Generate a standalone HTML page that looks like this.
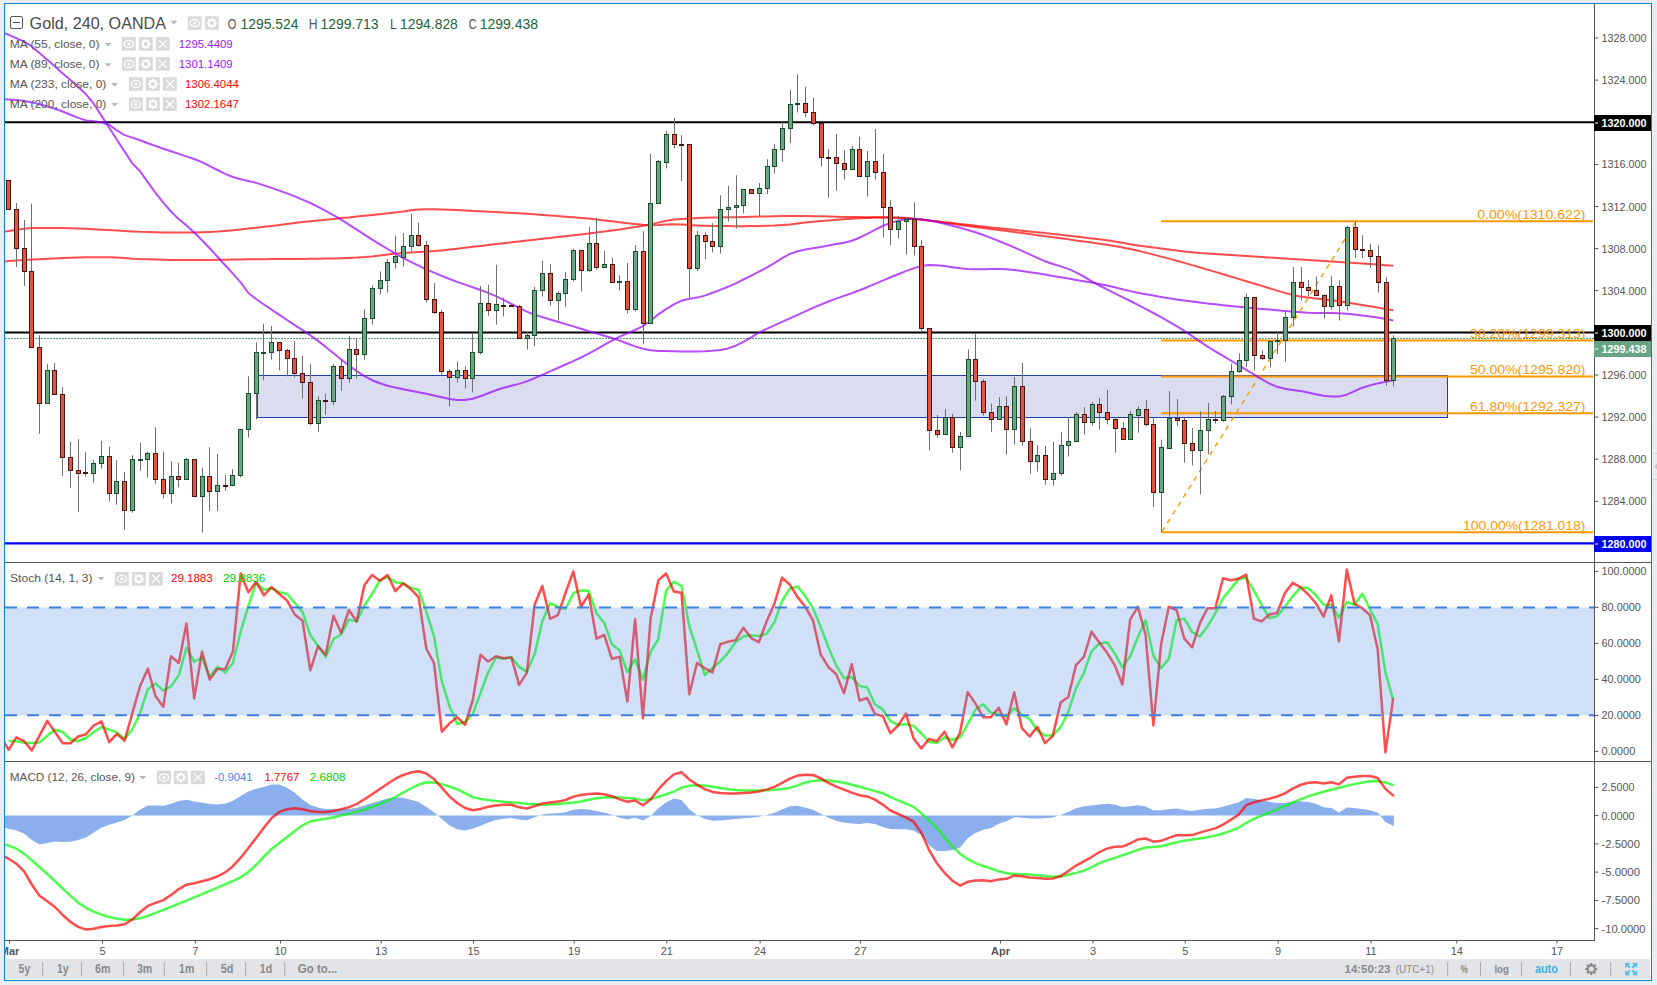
<!DOCTYPE html><html><head><meta charset="utf-8"><style>html,body{margin:0;padding:0;background:#e9edf0;}svg{display:block;}text{font-family:"Liberation Sans", sans-serif;}</style></head><body>
<svg width="1657" height="985" viewBox="0 0 1657 985">
<defs><clipPath id="cMain"><rect x="5" y="4" width="1589" height="558"/></clipPath><clipPath id="cSto"><rect x="5" y="563" width="1589" height="198"/></clipPath><clipPath id="cMacd"><rect x="5" y="762" width="1589" height="178"/></clipPath><clipPath id="cTime"><rect x="5" y="941" width="1645" height="18"/></clipPath></defs>
<rect x="0" y="0" width="1657" height="985" fill="#e9edf0"/>
<rect x="4.5" y="3.5" width="1647" height="977" fill="#ffffff" stroke="#0e82c3" stroke-width="1"/>
<g clip-path="url(#cMain)">
<rect x="257.5" y="375.5" width="1190" height="42" fill="#d9ddef" stroke="#1c3fa8" stroke-width="1"/>
<line x1="5" y1="338.5" x2="1594" y2="338.5" stroke="#5a9e72" stroke-width="1" stroke-dasharray="2,1"/>
<line x1="5" y1="122.3" x2="1594" y2="122.3" stroke="#000" stroke-width="2"/>
<line x1="5" y1="332.4" x2="1594" y2="332.4" stroke="#000" stroke-width="2"/>
<line x1="5" y1="543.3" x2="1594" y2="543.3" stroke="#0000f5" stroke-width="2.2"/>
<line x1="1161" y1="221.2" x2="1593" y2="221.2" stroke="#ff9800" stroke-width="2"/>
<line x1="1161" y1="340.4" x2="1593" y2="340.4" stroke="#ff9800" stroke-width="2"/>
<line x1="1161" y1="376.4" x2="1593" y2="376.4" stroke="#ff9800" stroke-width="2"/>
<line x1="1161" y1="413.3" x2="1593" y2="413.3" stroke="#ff9800" stroke-width="2"/>
<line x1="1161" y1="532.2" x2="1593" y2="532.2" stroke="#ff9800" stroke-width="2"/>
<line x1="1162" y1="531.5" x2="1356" y2="221.5" stroke="#ff9800" stroke-width="1.4" stroke-dasharray="5,5"/>
<polyline points="0.9,232.1 8.6,231.0 16.3,229.7 24.1,228.7 31.8,228.1 39.5,227.9 47.3,227.9 55.0,227.9 62.7,228.0 70.5,228.2 78.2,228.5 86.0,228.8 93.7,229.2 101.4,229.7 109.2,230.1 116.9,230.6 124.6,231.0 132.4,231.4 140.1,231.8 147.8,232.0 155.6,232.2 163.3,232.4 171.0,232.5 178.8,232.6 186.5,232.6 194.2,232.5 202.0,232.3 209.7,232.0 217.4,231.6 225.2,231.0 232.9,230.3 240.7,229.5 248.4,228.6 256.1,227.8 263.9,226.8 271.6,225.9 279.3,225.0 287.1,224.0 294.8,223.1 302.5,222.1 310.3,221.3 318.0,220.5 325.7,219.7 333.5,218.9 341.2,218.1 348.9,217.4 356.7,216.6 364.4,215.8 372.1,215.0 379.9,214.2 387.6,213.3 395.4,212.5 403.1,211.6 410.8,210.3 418.6,209.5 426.3,209.3 434.0,209.3 441.8,209.4 449.5,209.7 457.2,210.1 465.0,210.5 472.7,210.9 480.4,211.3 488.2,211.7 495.9,212.1 503.6,212.5 511.4,212.9 519.1,213.3 526.8,213.8 534.6,214.3 542.3,214.9 550.1,215.5 557.8,216.1 565.5,216.7 573.3,217.3 581.0,218.0 588.7,218.6 596.5,219.4 604.2,220.4 611.9,221.3 619.7,222.3 627.4,223.3 635.1,224.1 642.9,224.8 650.6,225.2 658.3,224.9 666.1,224.4 673.8,224.2 681.5,224.5 689.3,225.0 697.0,225.4 704.8,225.7 712.5,225.9 720.2,226.0 728.0,226.1 735.7,226.2 743.4,226.2 751.2,226.1 758.9,226.0 766.6,225.8 774.4,225.5 782.1,225.0 789.8,224.4 797.6,223.5 805.3,222.6 813.0,221.8 820.8,221.0 828.5,220.4 836.2,219.8 844.0,219.3 851.7,218.7 859.5,218.3 867.2,217.9 874.9,217.6 882.7,217.5 890.4,217.5 898.1,217.7 905.9,218.1 913.6,218.8 921.3,219.6 929.1,220.5 936.8,221.3 944.5,222.2 952.3,223.1 960.0,224.0 967.7,224.8 975.5,225.7 983.2,226.5 990.9,227.4 998.7,228.2 1006.4,229.0 1014.2,229.8 1021.9,230.7 1029.6,231.5 1037.4,232.3 1045.1,233.1 1052.8,234.0 1060.6,234.8 1068.3,235.7 1076.0,236.6 1083.8,237.5 1091.5,238.4 1099.2,239.3 1107.0,240.3 1114.7,241.5 1122.4,242.8 1130.2,244.2 1137.9,245.4 1145.6,246.5 1153.4,247.5 1161.1,248.6 1168.8,249.6 1176.6,250.5 1184.3,251.4 1192.1,252.2 1199.8,253.0 1207.5,253.6 1215.3,254.1 1223.0,254.6 1230.7,255.1 1238.5,255.6 1246.2,256.1 1253.9,256.5 1261.7,257.0 1269.4,257.5 1277.1,257.9 1284.9,258.4 1292.6,258.9 1300.3,259.4 1308.1,259.9 1315.8,260.4 1323.5,260.9 1331.3,261.5 1339.0,262.0 1346.8,262.5 1354.5,263.0 1362.2,263.6 1370.0,264.1 1377.7,264.6 1385.4,265.2 1393.2,265.7" fill="none" stroke="rgba(255,0,0,0.7)" stroke-width="2" stroke-linejoin="round"/>
<polyline points="0.9,261.7 8.6,261.1 16.3,260.6 24.1,260.1 31.8,259.6 39.5,259.2 47.3,258.8 55.0,258.4 62.7,258.1 70.5,257.8 78.2,257.5 86.0,257.3 93.7,257.2 101.4,257.2 109.2,257.2 116.9,257.6 124.6,258.1 132.4,258.7 140.1,259.1 147.8,259.3 155.6,259.5 163.3,259.7 171.0,259.9 178.8,260.0 186.5,260.0 194.2,260.0 202.0,260.0 209.7,259.9 217.4,259.8 225.2,259.7 232.9,259.5 240.7,259.4 248.4,259.3 256.1,259.2 263.9,259.2 271.6,259.1 279.3,259.1 287.1,259.0 294.8,259.0 302.5,258.9 310.3,258.8 318.0,258.7 325.7,258.6 333.5,258.4 341.2,258.2 348.9,257.9 356.7,257.6 364.4,257.1 372.1,256.4 379.9,255.4 387.6,254.4 395.4,253.5 403.1,252.9 410.8,252.4 418.6,252.0 426.3,251.5 434.0,251.1 441.8,250.4 449.5,249.6 457.2,248.7 465.0,247.7 472.7,246.8 480.4,245.9 488.2,245.0 495.9,244.1 503.6,243.2 511.4,242.3 519.1,241.4 526.8,240.6 534.6,239.7 542.3,238.8 550.1,237.9 557.8,237.0 565.5,236.2 573.3,235.3 581.0,234.4 588.7,233.5 596.5,232.5 604.2,231.5 611.9,230.5 619.7,229.4 627.4,228.3 635.1,227.1 642.9,225.8 650.6,224.4 658.3,222.6 666.1,220.8 673.8,219.6 681.5,218.9 689.3,218.4 697.0,218.1 704.8,217.8 712.5,217.6 720.2,217.5 728.0,217.3 735.7,217.2 743.4,217.0 751.2,216.8 758.9,216.6 766.6,216.4 774.4,216.2 782.1,216.1 789.8,216.0 797.6,216.0 805.3,216.1 813.0,216.2 820.8,216.3 828.5,216.5 836.2,216.7 844.0,216.9 851.7,217.0 859.5,217.1 867.2,217.2 874.9,217.2 882.7,217.3 890.4,217.4 898.1,217.7 905.9,218.1 913.6,218.8 921.3,219.7 929.1,220.6 936.8,221.6 944.5,222.7 952.3,223.8 960.0,224.9 967.7,225.9 975.5,227.0 983.2,228.1 990.9,229.1 998.7,230.1 1006.4,231.1 1014.2,232.1 1021.9,233.1 1029.6,234.1 1037.4,235.2 1045.1,236.2 1052.8,237.2 1060.6,238.3 1068.3,239.3 1076.0,240.4 1083.8,241.5 1091.5,242.6 1099.2,243.7 1107.0,244.8 1114.7,246.1 1122.4,247.4 1130.2,249.0 1137.9,250.7 1145.6,252.6 1153.4,254.6 1161.1,256.6 1168.8,258.6 1176.6,260.7 1184.3,262.9 1192.1,265.1 1199.8,267.3 1207.5,269.6 1215.3,271.9 1223.0,274.2 1230.7,276.5 1238.5,278.9 1246.2,281.2 1253.9,283.5 1261.7,285.9 1269.4,288.3 1277.1,290.6 1284.9,292.9 1292.6,294.9 1300.3,296.4 1308.1,297.5 1315.8,298.5 1323.5,299.3 1331.3,300.2 1339.0,301.3 1346.8,302.5 1354.5,303.8 1362.2,305.0 1370.0,306.3 1377.7,307.6 1385.4,308.9 1393.2,310.2" fill="none" stroke="rgba(255,0,0,0.7)" stroke-width="2" stroke-linejoin="round"/>
<polyline points="0.9,99.1 8.6,99.6 16.3,100.0 24.1,100.9 31.8,102.4 39.5,104.3 47.3,106.4 55.0,108.8 62.7,111.5 70.5,114.7 78.2,117.9 86.0,120.4 93.7,121.3 101.4,122.2 109.2,124.8 116.9,130.5 124.6,135.1 132.4,137.6 140.1,140.3 147.8,143.3 155.6,146.0 163.3,148.7 171.0,151.3 178.8,153.9 186.5,156.4 194.2,159.0 202.0,162.1 209.7,166.1 217.4,170.0 225.2,173.8 232.9,177.0 240.7,179.2 248.4,181.0 256.1,182.9 263.9,185.4 271.6,187.9 279.3,190.6 287.1,193.4 294.8,196.4 302.5,199.6 310.3,203.0 318.0,206.8 325.7,210.8 333.5,215.1 341.2,219.7 348.9,224.6 356.7,229.6 364.4,234.7 372.1,239.6 379.9,244.3 387.6,249.0 395.4,253.6 403.1,257.9 410.8,261.9 418.6,265.7 426.3,269.3 434.0,272.6 441.8,275.9 449.5,279.0 457.2,281.9 465.0,284.6 472.7,287.3 480.4,290.0 488.2,292.9 495.9,296.1 503.6,299.9 511.4,303.9 519.1,307.9 526.8,311.6 534.6,314.7 542.3,317.1 550.1,319.5 557.8,321.8 565.5,324.1 573.3,326.4 581.0,328.8 588.7,331.1 596.5,333.4 604.2,335.7 611.9,338.0 619.7,340.6 627.4,343.5 635.1,346.4 642.9,348.8 650.6,350.2 658.3,350.9 666.1,351.1 673.8,351.2 681.5,351.4 689.3,351.4 697.0,351.4 704.8,351.2 712.5,350.8 720.2,350.0 728.0,348.4 735.7,345.7 743.4,341.8 751.2,337.3 758.9,332.7 766.6,328.8 774.4,325.3 782.1,321.8 789.8,318.3 797.6,314.8 805.3,311.3 813.0,307.9 820.8,304.6 828.5,301.5 836.2,298.6 844.0,295.9 851.7,293.2 859.5,290.3 867.2,287.2 874.9,283.9 882.7,280.6 890.4,277.3 898.1,274.2 905.9,271.1 913.6,268.4 921.3,266.0 929.1,264.9 936.8,265.3 944.5,266.1 952.3,267.2 960.0,268.2 967.7,268.9 975.5,269.2 983.2,269.2 990.9,269.1 998.7,269.0 1006.4,269.3 1014.2,270.0 1021.9,271.0 1029.6,272.2 1037.4,273.3 1045.1,274.6 1052.8,275.9 1060.6,277.2 1068.3,278.5 1076.0,279.9 1083.8,281.2 1091.5,282.6 1099.2,284.1 1107.0,285.6 1114.7,287.3 1122.4,289.2 1130.2,291.1 1137.9,292.8 1145.6,294.2 1153.4,295.6 1161.1,296.9 1168.8,298.2 1176.6,299.4 1184.3,300.5 1192.1,301.6 1199.8,302.6 1207.5,303.5 1215.3,304.3 1223.0,305.2 1230.7,306.0 1238.5,306.7 1246.2,307.5 1253.9,308.2 1261.7,308.9 1269.4,309.6 1277.1,310.3 1284.9,310.9 1292.6,311.6 1300.3,312.2 1308.1,312.7 1315.8,313.0 1323.5,313.0 1331.3,313.0 1339.0,313.2 1346.8,313.7 1354.5,314.4 1362.2,315.4 1370.0,316.4 1377.7,317.6 1385.4,319.0 1393.2,320.4" fill="none" stroke="rgba(153,0,255,0.7)" stroke-width="2" stroke-linejoin="round"/>
<polyline points="0.9,31.8 8.6,34.8 16.3,38.1 24.1,41.7 31.8,46.4 39.5,53.0 47.3,59.8 55.0,66.6 62.7,73.4 70.5,80.1 78.2,86.9 86.0,94.3 93.7,103.7 101.4,115.6 109.2,127.8 116.9,139.7 124.6,151.6 132.4,163.5 140.1,171.3 147.8,182.2 155.6,193.0 163.3,202.6 171.0,211.5 178.8,219.3 186.5,225.4 194.2,232.6 202.0,240.2 209.7,248.3 217.4,256.7 225.2,265.2 232.9,273.6 240.7,282.3 248.4,293.0 256.1,299.0 263.9,304.5 271.6,309.7 279.3,314.9 287.1,320.0 294.8,325.1 302.5,330.2 310.3,335.4 318.0,340.9 325.7,346.9 333.5,353.3 341.2,359.5 348.9,365.5 356.7,371.1 364.4,376.2 372.1,380.2 379.9,383.3 387.6,385.7 395.4,387.6 403.1,389.2 410.8,390.8 418.6,392.3 426.3,393.8 434.0,395.5 441.8,397.2 449.5,398.9 457.2,400.0 465.0,400.0 472.7,398.8 480.4,396.3 488.2,393.2 495.9,390.2 503.6,387.7 511.4,385.8 519.1,383.9 526.8,381.4 534.6,378.2 542.3,374.8 550.1,371.4 557.8,368.0 565.5,364.5 573.3,361.1 581.0,357.5 588.7,353.7 596.5,349.4 604.2,344.9 611.9,340.6 619.7,336.7 627.4,333.3 635.1,330.0 642.9,326.1 650.6,320.6 658.3,314.4 666.1,309.1 673.8,304.3 681.5,300.7 689.3,298.7 697.0,297.6 704.8,295.6 712.5,292.8 720.2,289.9 728.0,286.8 735.7,283.3 743.4,279.5 751.2,275.6 758.9,271.7 766.6,267.7 774.4,263.1 782.1,258.2 789.8,253.9 797.6,251.2 805.3,249.5 813.0,248.2 820.8,246.9 828.5,245.5 836.2,244.1 844.0,242.7 851.7,240.8 859.5,237.7 867.2,233.9 874.9,229.8 882.7,226.0 890.4,222.9 898.1,220.8 905.9,219.2 913.6,218.7 921.3,219.3 929.1,220.5 936.8,222.0 944.5,223.7 952.3,225.7 960.0,227.8 967.7,230.0 975.5,232.3 983.2,235.0 990.9,237.9 998.7,241.0 1006.4,244.1 1014.2,247.4 1021.9,250.8 1029.6,254.4 1037.4,257.9 1045.1,261.3 1052.8,264.0 1060.6,266.4 1068.3,268.9 1076.0,272.4 1083.8,276.7 1091.5,281.2 1099.2,285.5 1107.0,289.4 1114.7,293.3 1122.4,297.1 1130.2,301.0 1137.9,304.9 1145.6,308.9 1153.4,313.0 1161.1,317.2 1168.8,321.6 1176.6,326.1 1184.3,330.9 1192.1,336.1 1199.8,341.4 1207.5,346.6 1215.3,351.3 1223.0,355.9 1230.7,360.5 1238.5,365.1 1246.2,369.8 1253.9,374.4 1261.7,379.1 1269.4,383.5 1277.1,386.8 1284.9,388.7 1292.6,389.9 1300.3,391.1 1308.1,392.6 1315.8,394.3 1323.5,395.7 1331.3,396.6 1339.0,396.6 1346.8,394.7 1354.5,391.2 1362.2,387.7 1370.0,385.4 1377.7,383.4 1385.4,381.7 1393.2,380.2" fill="none" stroke="rgba(153,0,255,0.7)" stroke-width="2" stroke-linejoin="round"/>
<path d="M8.5,180.0V180.5M8.5,209.5V209.9M16.5,203.0V209.5M16.5,248.5V267.0M24.5,220.0V248.5M24.5,271.5V285.8M31.5,203.7V271.5M39.5,335.3V347.5M39.5,403.5V433.8M47.5,364.1V370.5M54.5,363.0V370.5M62.5,387.1V394.5M62.5,457.5V476.0M70.5,441.9V457.5M70.5,470.5V487.8M78.5,439.2V470.5M78.5,473.5V511.9M85.5,452.2V472.5M85.5,473.5V476.7M93.5,460.0V463.5M93.5,473.5V482.9M101.5,440.9V456.5M101.5,463.5V468.6M109.5,446.8V456.5M109.5,493.5V501.6M116.5,460.0V481.5M116.5,493.5V504.8M124.5,471.8V481.5M124.5,510.5V529.8M132.5,455.2V459.5M132.5,510.5V512.7M140.5,442.8V459.5M140.5,460.5V470.7M147.5,451.7V453.5M147.5,459.5V477.4M155.5,427.2V453.5M155.5,479.5V483.7M163.5,451.7V479.5M163.5,493.5V498.6M171.5,461.1V476.5M171.5,493.5V503.5M178.5,462.9V476.5M178.5,479.5V487.4M186.5,458.0V459.5M186.5,479.5V479.6M194.5,459.1V459.5M202.5,467.8V476.5M202.5,496.5V532.5M209.5,447.3V476.5M209.5,491.5V510.9M217.5,454.0V485.5M217.5,491.5V510.9M225.5,475.2V485.5M225.5,486.5V490.8M232.5,469.1V475.5M232.5,485.5V486.3M240.5,429.4V429.5M240.5,475.5V477.4M248.5,376.3V393.5M248.5,429.5V437.7M256.5,342.3V352.5M256.5,393.5V419.4M263.5,323.8V352.5M263.5,353.5V380.3M271.5,326.0V342.5M271.5,352.5V359.5M279.5,342.3V342.5M279.5,350.5V370.3M287.5,349.0V350.5M287.5,358.5V376.3M294.5,341.2V358.5M294.5,373.5V377.4M302.5,355.7V373.5M302.5,382.5V398.6M310.5,364.0V382.5M310.5,423.5V425.0M318.5,396.4V400.5M318.5,423.5V431.7M325.5,393.7V400.5M325.5,401.5V414.7M333.5,364.0V366.5M333.5,401.5V404.9M341.5,359.5V366.5M341.5,378.5V390.8M349.5,336.1V349.5M349.5,378.5V382.5M356.5,338.3V349.5M356.5,354.5V378.5M364.5,309.3V318.5M364.5,354.5V359.5M372.5,285.2V288.5M372.5,318.5V324.5M380.5,271.4V280.5M380.5,288.5V294.3M387.5,259.2V262.5M387.5,280.5V292.7M395.5,235.7V256.5M395.5,262.5V268.5M403.5,233.0V246.5M403.5,257.5V266.5M411.5,213.8V235.5M411.5,246.5V251.4M418.5,222.8V235.5M418.5,245.5V246.9M426.5,240.9V245.5M426.5,299.5V302.7M434.5,283.0V299.5M434.5,312.5V313.9M441.5,309.8V312.5M441.5,371.5V375.3M449.5,369.0V371.5M449.5,377.5V406.5M457.5,361.9V370.5M457.5,377.5V382.6M465.5,366.3V370.5M465.5,378.5V388.7M472.5,333.5V352.5M472.5,378.5V392.5M480.5,286.0V303.5M480.5,352.5V354.5M488.5,284.8V303.5M488.5,310.5V315.7M496.5,264.7V304.5M496.5,310.5V324.6M503.5,297.8V305.5M503.5,306.5V316.5M511.5,304.0V305.5M511.5,306.5V307.0M519.5,305.0V306.5M527.5,331.7V335.5M527.5,338.5V349.6M534.5,287.0V290.5M534.5,335.5V346.2M542.5,260.7V273.5M542.5,290.5V296.5M550.5,264.0V273.5M550.5,300.5V305.6M558.5,291.0V293.5M558.5,300.5V320.6M565.5,271.9V279.5M565.5,293.5V306.7M573.5,248.7V250.5M573.5,279.5V281.5M581.5,250.2V250.5M581.5,270.5V291.5M589.5,226.8V243.5M589.5,270.5V271.9M596.5,217.9V243.5M596.5,267.5V269.7M604.5,250.9V264.5M604.5,267.5V268.1M612.5,258.0V264.5M612.5,282.5V282.6M619.5,275.2V281.5M619.5,282.5V290.4M627.5,263.0V281.5M627.5,309.5V313.4M635.5,245.0V251.5M635.5,309.5V311.6M643.5,231.2V251.5M643.5,323.5V344.3M650.5,153.8V203.5M650.5,323.5V323.8M658.5,159.9V161.5M666.5,130.7V134.5M666.5,162.5V168.4M674.5,118.0V134.5M674.5,144.5V148.5M681.5,135.1V144.5M681.5,145.5V181.1M689.5,268.5V297.5M697.5,231.0V235.5M697.5,268.5V271.2M705.5,232.5V235.5M705.5,241.5V259.3M712.5,223.2V241.5M712.5,246.5V252.4M720.5,195.2V209.5M720.5,246.5V253.7M728.5,186.0V207.5M728.5,209.5V221.5M736.5,175.3V205.5M736.5,207.5V228.6M743.5,189.1V189.5M743.5,205.5V213.5M751.5,189.1V189.5M759.5,183.0V188.5M759.5,193.5V216.0M767.5,159.3V166.5M767.5,188.5V194.2M774.5,144.1V149.5M774.5,166.5V173.4M782.5,122.2V128.5M782.5,149.5V161.7M790.5,90.1V104.5M790.5,128.5V142.9M797.5,74.3V103.5M797.5,104.5V112.5M805.5,86.9V103.5M805.5,112.5V117.3M813.5,97.9V112.5M813.5,123.5V125.4M821.5,123.0V123.5M821.5,157.5V166.5M828.5,149.0V157.5M828.5,158.5V197.7M836.5,133.9V157.5M836.5,163.5V190.9M844.5,150.2V163.5M844.5,169.5V179.4M852.5,146.1V149.5M852.5,169.5V169.7M859.5,136.8V149.5M867.5,151.0V161.5M867.5,176.5V196.5M875.5,129.0V161.5M875.5,172.5V179.4M883.5,153.9V172.5M883.5,207.5V237.4M890.5,200.1V207.5M890.5,229.5V245.3M898.5,215.7V221.5M898.5,229.5V238.4M906.5,217.6V219.5M906.5,221.5V254.6M914.5,202.3V219.5M914.5,246.5V255.5M921.5,239.8V246.5M921.5,328.5V330.9M929.5,430.5V450.4M937.5,414.9V430.5M937.5,434.5V437.6M945.5,409.2V417.5M945.5,434.5V434.8M952.5,414.0V417.5M952.5,447.5V452.7M960.5,431.9V436.5M960.5,447.5V470.3M968.5,349.4V359.5M975.5,333.7V359.5M975.5,381.5V400.6M983.5,379.3V381.5M983.5,412.5V415.7M991.5,403.5V412.5M991.5,419.5V431.9M999.5,397.2V406.5M1006.5,396.4V406.5M1006.5,429.5V454.7M1014.5,377.0V386.5M1014.5,429.5V444.7M1022.5,362.8V386.5M1022.5,441.5V445.6M1030.5,428.1V441.5M1030.5,461.5V473.8M1037.5,445.1V455.5M1037.5,461.5V471.6M1045.5,446.0V455.5M1045.5,479.5V484.8M1053.5,442.0V473.5M1053.5,479.5V485.7M1061.5,432.3V445.5M1061.5,473.5V475.6M1068.5,417.1V441.5M1068.5,445.5V456.6M1076.5,412.2V414.5M1084.5,407.1V414.5M1084.5,422.5V434.5M1092.5,402.1V404.5M1092.5,422.5V425.5M1099.5,398.1V404.5M1099.5,412.5V429.6M1107.5,389.9V412.5M1107.5,419.5V424.4M1115.5,417.3V419.5M1115.5,428.5V452.8M1123.5,422.3V428.5M1123.5,439.5V439.6M1130.5,411.3V414.5M1130.5,439.5V439.6M1138.5,406.2V409.5M1138.5,415.5V432.7M1146.5,400.1V409.5M1146.5,424.5V426.2M1153.5,417.3V424.5M1153.5,492.5V507.0M1161.5,439.6V447.5M1161.5,492.5V531.7M1169.5,391.0V418.5M1177.5,399.0V418.5M1177.5,420.5V426.2M1184.5,418.0V420.5M1184.5,443.5V462.6M1192.5,428.0V443.5M1192.5,450.5V465.3M1200.5,411.3V430.5M1200.5,450.5V494.3M1208.5,402.8V419.5M1208.5,430.5V454.1M1215.5,411.0V419.5M1215.5,420.5V423.6M1223.5,395.0V396.5M1223.5,420.5V421.8M1231.5,363.7V371.5M1231.5,396.5V404.4M1239.5,353.2V360.5M1239.5,371.5V372.7M1246.5,293.4V297.5M1246.5,360.5V367.1M1254.5,297.2V297.5M1254.5,355.5V370.4M1262.5,350.3V355.5M1262.5,358.5V360.2M1270.5,341.2V341.5M1270.5,358.5V367.5M1277.5,331.5V340.5M1277.5,341.5V354.3M1285.5,311.4V317.5M1285.5,340.5V361.7M1293.5,267.0V282.5M1293.5,317.5V326.6M1301.5,267.0V282.5M1301.5,287.5V300.4M1308.5,280.0V287.5M1308.5,290.5V295.9M1316.5,276.7V290.5M1324.5,294.4V295.5M1324.5,306.5V318.7M1331.5,276.1V286.5M1331.5,306.5V309.6M1339.5,280.3V286.5M1339.5,305.5V320.5M1347.5,225.5V227.5M1347.5,305.5V310.5M1355.5,221.3V227.5M1355.5,249.5V257.9M1362.5,235.2V249.5M1362.5,250.5V257.9M1370.5,243.8V250.5M1370.5,256.5V268.1M1378.5,245.1V256.5M1378.5,282.5V292.6M1386.5,277.2V282.5M1386.5,380.5V385.8M1393.5,335.2V338.5M1393.5,380.5V386.3" stroke="#6e6e6e" stroke-width="1" fill="none"/>
<g fill="#e0553f" stroke="#4a1410" stroke-width="1"><rect x="6.5" y="180.5" width="4" height="29.0"/><rect x="14.5" y="209.5" width="4" height="39.0"/><rect x="22.5" y="248.5" width="4" height="23.0"/><rect x="29.5" y="271.5" width="4" height="76.0"/><rect x="37.5" y="347.5" width="4" height="56.0"/><rect x="52.5" y="370.5" width="4" height="24.0"/><rect x="60.5" y="394.5" width="4" height="63.0"/><rect x="68.5" y="457.5" width="4" height="13.0"/><rect x="76.5" y="470.5" width="4" height="3.0"/><rect x="83.5" y="472.5" width="4" height="1.0"/><rect x="107.5" y="456.5" width="4" height="37.0"/><rect x="122.5" y="481.5" width="4" height="29.0"/><rect x="153.5" y="453.5" width="4" height="26.0"/><rect x="161.5" y="479.5" width="4" height="14.0"/><rect x="176.5" y="476.5" width="4" height="3.0"/><rect x="192.5" y="459.5" width="4" height="37.0"/><rect x="207.5" y="476.5" width="4" height="15.0"/><rect x="223.5" y="485.5" width="4" height="1.0"/><rect x="277.5" y="342.5" width="4" height="8.0"/><rect x="285.5" y="350.5" width="4" height="8.0"/><rect x="292.5" y="358.5" width="4" height="15.0"/><rect x="300.5" y="373.5" width="4" height="9.0"/><rect x="308.5" y="382.5" width="4" height="41.0"/><rect x="323.5" y="400.5" width="4" height="1.0"/><rect x="339.5" y="366.5" width="4" height="12.0"/><rect x="354.5" y="349.5" width="4" height="5.0"/><rect x="416.5" y="235.5" width="4" height="10.0"/><rect x="424.5" y="245.5" width="4" height="54.0"/><rect x="432.5" y="299.5" width="4" height="13.0"/><rect x="439.5" y="312.5" width="4" height="59.0"/><rect x="447.5" y="371.5" width="4" height="6.0"/><rect x="463.5" y="370.5" width="4" height="8.0"/><rect x="486.5" y="303.5" width="4" height="7.0"/><rect x="501.5" y="305.5" width="4" height="1.0"/><rect x="509.5" y="305.5" width="4" height="1.0"/><rect x="517.5" y="306.5" width="4" height="32.0"/><rect x="548.5" y="273.5" width="4" height="27.0"/><rect x="579.5" y="250.5" width="4" height="20.0"/><rect x="594.5" y="243.5" width="4" height="24.0"/><rect x="610.5" y="264.5" width="4" height="18.0"/><rect x="625.5" y="281.5" width="4" height="28.0"/><rect x="641.5" y="251.5" width="4" height="72.0"/><rect x="672.5" y="134.5" width="4" height="10.0"/><rect x="679.5" y="144.5" width="4" height="1.0"/><rect x="687.5" y="144.5" width="4" height="124.0"/><rect x="703.5" y="235.5" width="4" height="6.0"/><rect x="710.5" y="241.5" width="4" height="5.0"/><rect x="749.5" y="189.5" width="4" height="4.0"/><rect x="803.5" y="103.5" width="4" height="9.0"/><rect x="811.5" y="112.5" width="4" height="11.0"/><rect x="819.5" y="123.5" width="4" height="34.0"/><rect x="826.5" y="157.5" width="4" height="1.0"/><rect x="834.5" y="157.5" width="4" height="6.0"/><rect x="842.5" y="163.5" width="4" height="6.0"/><rect x="857.5" y="149.5" width="4" height="27.0"/><rect x="873.5" y="161.5" width="4" height="11.0"/><rect x="881.5" y="172.5" width="4" height="35.0"/><rect x="888.5" y="207.5" width="4" height="22.0"/><rect x="912.5" y="219.5" width="4" height="27.0"/><rect x="919.5" y="246.5" width="4" height="82.0"/><rect x="927.5" y="328.5" width="4" height="102.0"/><rect x="935.5" y="430.5" width="4" height="4.0"/><rect x="950.5" y="417.5" width="4" height="30.0"/><rect x="973.5" y="359.5" width="4" height="22.0"/><rect x="981.5" y="381.5" width="4" height="31.0"/><rect x="989.5" y="412.5" width="4" height="7.0"/><rect x="1004.5" y="406.5" width="4" height="23.0"/><rect x="1020.5" y="386.5" width="4" height="55.0"/><rect x="1028.5" y="441.5" width="4" height="20.0"/><rect x="1043.5" y="455.5" width="4" height="24.0"/><rect x="1082.5" y="414.5" width="4" height="8.0"/><rect x="1097.5" y="404.5" width="4" height="8.0"/><rect x="1105.5" y="412.5" width="4" height="7.0"/><rect x="1113.5" y="419.5" width="4" height="9.0"/><rect x="1121.5" y="428.5" width="4" height="11.0"/><rect x="1144.5" y="409.5" width="4" height="15.0"/><rect x="1151.5" y="424.5" width="4" height="68.0"/><rect x="1175.5" y="418.5" width="4" height="2.0"/><rect x="1182.5" y="420.5" width="4" height="23.0"/><rect x="1190.5" y="443.5" width="4" height="7.0"/><rect x="1213.5" y="419.5" width="4" height="1.0"/><rect x="1252.5" y="297.5" width="4" height="58.0"/><rect x="1260.5" y="355.5" width="4" height="3.0"/><rect x="1299.5" y="282.5" width="4" height="5.0"/><rect x="1306.5" y="287.5" width="4" height="3.0"/><rect x="1314.5" y="290.5" width="4" height="5.0"/><rect x="1322.5" y="295.5" width="4" height="11.0"/><rect x="1337.5" y="286.5" width="4" height="19.0"/><rect x="1353.5" y="227.5" width="4" height="22.0"/><rect x="1360.5" y="249.5" width="4" height="1.0"/><rect x="1368.5" y="250.5" width="4" height="6.0"/><rect x="1376.5" y="256.5" width="4" height="26.0"/><rect x="1384.5" y="282.5" width="4" height="98.0"/></g>
<g fill="#6ba684" stroke="#1b4d2b" stroke-width="1"><rect x="45.5" y="370.5" width="4" height="33.0"/><rect x="91.5" y="463.5" width="4" height="10.0"/><rect x="99.5" y="456.5" width="4" height="7.0"/><rect x="114.5" y="481.5" width="4" height="12.0"/><rect x="130.5" y="459.5" width="4" height="51.0"/><rect x="138.5" y="459.5" width="4" height="1.0"/><rect x="145.5" y="453.5" width="4" height="6.0"/><rect x="169.5" y="476.5" width="4" height="17.0"/><rect x="184.5" y="459.5" width="4" height="20.0"/><rect x="200.5" y="476.5" width="4" height="20.0"/><rect x="215.5" y="485.5" width="4" height="6.0"/><rect x="230.5" y="475.5" width="4" height="10.0"/><rect x="238.5" y="429.5" width="4" height="46.0"/><rect x="246.5" y="393.5" width="4" height="36.0"/><rect x="254.5" y="352.5" width="4" height="41.0"/><rect x="261.5" y="352.5" width="4" height="1.0"/><rect x="269.5" y="342.5" width="4" height="10.0"/><rect x="316.5" y="400.5" width="4" height="23.0"/><rect x="331.5" y="366.5" width="4" height="35.0"/><rect x="347.5" y="349.5" width="4" height="29.0"/><rect x="362.5" y="318.5" width="4" height="36.0"/><rect x="370.5" y="288.5" width="4" height="30.0"/><rect x="378.5" y="280.5" width="4" height="8.0"/><rect x="385.5" y="262.5" width="4" height="18.0"/><rect x="393.5" y="256.5" width="4" height="6.0"/><rect x="401.5" y="246.5" width="4" height="11.0"/><rect x="409.5" y="235.5" width="4" height="11.0"/><rect x="455.5" y="370.5" width="4" height="7.0"/><rect x="470.5" y="352.5" width="4" height="26.0"/><rect x="478.5" y="303.5" width="4" height="49.0"/><rect x="494.5" y="304.5" width="4" height="6.0"/><rect x="525.5" y="335.5" width="4" height="3.0"/><rect x="532.5" y="290.5" width="4" height="45.0"/><rect x="540.5" y="273.5" width="4" height="17.0"/><rect x="556.5" y="293.5" width="4" height="7.0"/><rect x="563.5" y="279.5" width="4" height="14.0"/><rect x="571.5" y="250.5" width="4" height="29.0"/><rect x="587.5" y="243.5" width="4" height="27.0"/><rect x="602.5" y="264.5" width="4" height="3.0"/><rect x="617.5" y="281.5" width="4" height="1.0"/><rect x="633.5" y="251.5" width="4" height="58.0"/><rect x="648.5" y="203.5" width="4" height="120.0"/><rect x="656.5" y="161.5" width="4" height="42.0"/><rect x="664.5" y="134.5" width="4" height="28.0"/><rect x="695.5" y="235.5" width="4" height="33.0"/><rect x="718.5" y="209.5" width="4" height="37.0"/><rect x="726.5" y="207.5" width="4" height="2.0"/><rect x="734.5" y="205.5" width="4" height="2.0"/><rect x="741.5" y="189.5" width="4" height="16.0"/><rect x="757.5" y="188.5" width="4" height="5.0"/><rect x="765.5" y="166.5" width="4" height="22.0"/><rect x="772.5" y="149.5" width="4" height="17.0"/><rect x="780.5" y="128.5" width="4" height="21.0"/><rect x="788.5" y="104.5" width="4" height="24.0"/><rect x="795.5" y="103.5" width="4" height="1.0"/><rect x="850.5" y="149.5" width="4" height="20.0"/><rect x="865.5" y="161.5" width="4" height="15.0"/><rect x="896.5" y="221.5" width="4" height="8.0"/><rect x="904.5" y="219.5" width="4" height="2.0"/><rect x="943.5" y="417.5" width="4" height="17.0"/><rect x="958.5" y="436.5" width="4" height="11.0"/><rect x="966.5" y="359.5" width="4" height="77.0"/><rect x="997.5" y="406.5" width="4" height="13.0"/><rect x="1012.5" y="386.5" width="4" height="43.0"/><rect x="1035.5" y="455.5" width="4" height="6.0"/><rect x="1051.5" y="473.5" width="4" height="6.0"/><rect x="1059.5" y="445.5" width="4" height="28.0"/><rect x="1066.5" y="441.5" width="4" height="4.0"/><rect x="1074.5" y="414.5" width="4" height="27.0"/><rect x="1090.5" y="404.5" width="4" height="18.0"/><rect x="1128.5" y="414.5" width="4" height="25.0"/><rect x="1136.5" y="409.5" width="4" height="6.0"/><rect x="1159.5" y="447.5" width="4" height="45.0"/><rect x="1167.5" y="418.5" width="4" height="30.0"/><rect x="1198.5" y="430.5" width="4" height="20.0"/><rect x="1206.5" y="419.5" width="4" height="11.0"/><rect x="1221.5" y="396.5" width="4" height="24.0"/><rect x="1229.5" y="371.5" width="4" height="25.0"/><rect x="1237.5" y="360.5" width="4" height="11.0"/><rect x="1244.5" y="297.5" width="4" height="63.0"/><rect x="1268.5" y="341.5" width="4" height="17.0"/><rect x="1275.5" y="340.5" width="4" height="1.0"/><rect x="1283.5" y="317.5" width="4" height="23.0"/><rect x="1291.5" y="282.5" width="4" height="35.0"/><rect x="1329.5" y="286.5" width="4" height="20.0"/><rect x="1345.5" y="227.5" width="4" height="78.0"/><rect x="1391.5" y="338.5" width="4" height="42.0"/></g>
<text x="1477.2" y="218.6" font-size="12" fill="#ff9800" font-weight="normal" text-anchor="start" textLength="108.3" lengthAdjust="spacingAndGlyphs">0.00%(1310.622)</text>
<text x="1470.0" y="337.8" font-size="12" fill="#ff9800" font-weight="normal" text-anchor="start" textLength="115.5" lengthAdjust="spacingAndGlyphs">38.20%(1299.313)</text>
<text x="1470.0" y="373.8" font-size="12" fill="#ff9800" font-weight="normal" text-anchor="start" textLength="115.5" lengthAdjust="spacingAndGlyphs">50.00%(1295.820)</text>
<text x="1470.0" y="410.7" font-size="12" fill="#ff9800" font-weight="normal" text-anchor="start" textLength="115.5" lengthAdjust="spacingAndGlyphs">61.80%(1292.327)</text>
<text x="1463.0" y="529.6" font-size="12" fill="#ff9800" font-weight="normal" text-anchor="start" textLength="122.5" lengthAdjust="spacingAndGlyphs">100.00%(1281.018)</text>
</g>
<g clip-path="url(#cSto)">
<polyline points="8.6,741.0 16.3,741.2 24.1,742.7 31.8,743.0 39.5,742.4 47.3,735.7 55.0,729.5 62.7,732.0 70.5,739.5 78.2,741.0 86.0,738.0 93.7,732.1 101.4,727.0 109.2,729.6 116.9,732.4 124.6,738.9 132.4,729.2 140.1,713.2 147.8,689.2 155.6,683.6 163.3,690.6 171.0,686.4 178.8,675.3 186.5,647.6 194.2,661.6 202.0,657.8 209.7,676.6 217.4,666.7 225.2,672.6 232.9,663.2 240.7,631.5 248.4,605.8 256.1,582.6 263.9,589.9 271.6,588.1 279.3,592.2 287.1,593.9 294.8,603.0 302.5,612.0 310.3,635.2 318.0,645.8 325.7,657.1 333.5,639.0 341.2,634.5 348.9,619.6 356.7,621.4 364.4,605.5 372.1,593.8 379.9,580.3 387.6,576.9 395.4,582.3 403.1,583.2 410.8,587.9 418.6,589.8 426.3,611.6 434.0,636.2 441.8,681.1 449.5,706.0 457.2,724.1 465.0,721.8 472.7,714.2 480.4,693.4 488.2,672.3 495.9,657.5 503.6,658.7 511.4,657.3 519.1,666.9 526.8,671.7 534.6,654.2 542.3,621.2 550.1,603.2 557.8,606.7 565.5,609.0 573.3,593.2 581.0,590.4 588.7,590.8 596.5,613.3 604.2,622.7 611.9,644.2 619.7,650.2 627.4,672.4 635.1,659.2 642.9,679.7 650.6,651.9 658.3,639.0 666.1,590.7 673.8,581.8 681.5,585.9 689.3,626.2 697.0,650.0 704.8,675.2 712.5,667.9 720.2,661.6 728.0,652.8 735.7,642.1 743.4,636.5 751.2,635.3 758.9,636.0 766.6,633.9 774.4,622.4 782.1,600.9 789.8,588.7 797.6,586.5 805.3,596.2 813.0,608.1 820.8,627.3 828.5,647.4 836.2,665.3 844.0,678.2 851.7,677.1 859.5,685.9 867.2,687.5 874.9,704.2 882.7,709.4 890.4,721.1 898.1,724.9 905.9,724.1 913.6,725.9 921.3,733.5 929.1,742.0 936.8,742.8 944.5,737.3 952.3,740.0 960.0,737.3 967.7,724.1 975.5,709.5 983.2,704.3 990.9,712.7 998.7,714.1 1006.4,716.5 1014.2,708.1 1021.9,714.9 1029.6,719.0 1037.4,730.5 1045.1,735.5 1052.8,735.3 1060.6,727.2 1068.3,711.8 1076.0,688.2 1083.8,673.0 1091.5,651.3 1099.2,643.7 1107.0,642.2 1114.7,653.3 1122.4,667.4 1130.2,656.3 1137.9,636.9 1145.6,620.3 1153.4,655.7 1161.1,668.2 1168.8,658.9 1176.6,620.4 1184.3,618.5 1192.1,632.0 1199.8,636.5 1207.5,626.4 1215.3,613.4 1223.0,598.3 1230.7,588.9 1238.5,579.1 1246.2,577.8 1253.9,590.7 1261.7,604.9 1269.4,618.2 1277.1,616.3 1284.9,606.8 1292.6,596.3 1300.3,587.6 1308.1,588.1 1315.8,594.9 1323.5,604.7 1331.3,605.1 1339.0,617.8 1346.8,602.0 1354.5,604.8 1362.2,593.8 1370.0,609.0 1377.7,624.3 1385.4,672.3 1393.2,700.1" fill="none" stroke="rgba(0,255,0,0.7)" stroke-width="2.5" stroke-linejoin="round"/>
<polyline points="0.9,736.6 8.6,749.8 16.3,737.3 24.1,741.1 31.8,750.5 39.5,735.7 47.3,720.9 55.0,732.0 62.7,743.2 70.5,743.2 78.2,736.5 86.0,734.2 93.7,725.5 101.4,721.3 109.2,742.1 116.9,733.8 124.6,740.7 132.4,713.0 140.1,685.9 147.8,668.7 155.6,696.3 163.3,706.8 171.0,656.2 178.8,663.0 186.5,623.5 194.2,698.4 202.0,651.6 209.7,679.7 217.4,668.7 225.2,669.3 232.9,651.6 240.7,573.5 248.4,592.3 256.1,581.9 263.9,595.4 271.6,587.1 279.3,594.0 287.1,600.6 294.8,614.5 302.5,620.8 310.3,670.3 318.0,646.4 325.7,654.7 333.5,615.8 341.2,632.9 348.9,610.0 356.7,621.4 364.4,585.0 372.1,575.0 379.9,580.8 387.6,575.0 395.4,591.2 403.1,583.3 410.8,589.1 418.6,597.1 426.3,648.5 434.0,663.0 441.8,731.7 449.5,723.4 457.2,717.2 465.0,724.9 472.7,700.5 480.4,654.7 488.2,661.6 495.9,656.2 503.6,658.3 511.4,657.4 519.1,684.9 526.8,672.8 534.6,604.8 542.3,586.0 550.1,618.8 557.8,615.2 565.5,593.0 573.3,571.4 581.0,606.8 588.7,594.3 596.5,638.7 604.2,635.0 611.9,658.9 619.7,656.8 627.4,701.5 635.1,619.3 642.9,718.2 650.6,618.3 658.3,580.4 666.1,573.5 673.8,591.6 681.5,592.7 689.3,694.3 697.0,663.0 704.8,668.2 712.5,672.4 720.2,644.3 728.0,641.8 735.7,640.1 743.4,627.7 751.2,638.1 758.9,642.2 766.6,621.4 774.4,603.7 782.1,577.7 789.8,584.6 797.6,597.1 805.3,606.8 813.0,620.4 820.8,654.7 828.5,667.2 836.2,674.1 844.0,693.2 851.7,664.1 859.5,700.5 867.2,698.0 874.9,714.0 882.7,716.1 890.4,733.2 898.1,725.5 905.9,713.6 913.6,738.6 921.3,748.4 929.1,739.0 936.8,741.1 944.5,731.7 952.3,747.3 960.0,732.8 967.7,692.2 975.5,703.6 983.2,717.2 990.9,717.2 998.7,707.8 1006.4,724.4 1014.2,692.2 1021.9,728.2 1029.6,736.5 1037.4,726.9 1045.1,743.2 1052.8,735.9 1060.6,702.6 1068.3,697.0 1076.0,665.1 1083.8,657.0 1091.5,631.8 1099.2,642.2 1107.0,652.6 1114.7,665.1 1122.4,684.5 1130.2,619.3 1137.9,606.8 1145.6,634.9 1153.4,725.5 1161.1,644.3 1168.8,606.8 1176.6,610.0 1184.3,638.7 1192.1,647.4 1199.8,623.5 1207.5,608.3 1215.3,608.3 1223.0,578.3 1230.7,580.2 1238.5,578.7 1246.2,574.6 1253.9,618.7 1261.7,621.4 1269.4,614.5 1277.1,613.1 1284.9,592.9 1292.6,582.9 1300.3,587.1 1308.1,594.3 1315.8,603.2 1323.5,616.7 1331.3,595.4 1339.0,641.2 1346.8,569.5 1354.5,603.7 1362.2,608.3 1370.0,615.1 1377.7,649.5 1385.4,752.4 1393.2,698.3" fill="none" stroke="rgba(255,0,0,0.7)" stroke-width="2.5" stroke-linejoin="round"/>
<rect x="5" y="607.5" width="1589" height="107.8" fill="rgba(87,144,223,0.28)"/>
<line x1="5" y1="607.5" x2="1594" y2="607.5" stroke="#3d7ee0" stroke-width="2" stroke-dasharray="12,10"/>
<line x1="5" y1="715.3" x2="1594" y2="715.3" stroke="#3d7ee0" stroke-width="2" stroke-dasharray="12,10"/>
</g>
<g clip-path="url(#cMacd)">
<polygon points="0.9,815.6 0.9,827.4 8.6,828.7 16.3,830.6 24.1,833.4 31.8,839.9 39.5,844.5 47.3,842.9 55.0,841.4 62.7,842.0 70.5,841.8 78.2,839.9 86.0,837.4 93.7,832.5 101.4,827.8 109.2,824.7 116.9,822.4 124.6,820.1 132.4,815.4 140.1,809.4 147.8,805.6 155.6,805.6 163.3,805.8 171.0,803.8 178.8,801.0 186.5,799.7 194.2,801.5 202.0,802.7 209.7,803.9 217.4,804.5 225.2,803.7 232.9,800.8 240.7,796.1 248.4,791.6 256.1,788.8 263.9,786.9 271.6,784.6 279.3,784.6 287.1,787.8 294.8,792.7 302.5,799.5 310.3,805.1 318.0,807.5 325.7,808.9 333.5,809.3 341.2,809.1 348.9,808.9 356.7,807.8 364.4,805.4 372.1,803.0 379.9,800.8 387.6,798.6 395.4,797.3 403.1,797.8 410.8,799.7 418.6,802.1 426.3,806.9 434.0,812.3 441.8,819.1 449.5,825.5 457.2,829.2 465.0,830.4 472.7,828.7 480.4,825.7 488.2,822.4 495.9,820.1 503.6,818.7 511.4,818.0 519.1,819.6 526.8,820.3 534.6,817.3 542.3,814.4 550.1,813.5 557.8,813.2 565.5,812.3 573.3,809.8 581.0,809.0 588.7,809.6 596.5,810.9 604.2,812.4 611.9,814.7 619.7,817.7 627.4,819.5 635.1,817.4 642.9,820.4 650.6,815.9 658.3,808.2 666.1,802.4 673.8,798.4 681.5,800.1 689.3,809.3 697.0,815.0 704.8,819.1 712.5,820.8 720.2,820.5 728.0,819.7 735.7,818.9 743.4,818.3 751.2,817.7 758.9,816.7 766.6,815.0 774.4,812.8 782.1,809.6 789.8,806.3 797.6,805.7 805.3,807.8 813.0,809.7 820.8,813.7 828.5,817.8 836.2,820.8 844.0,822.5 851.7,823.4 859.5,824.0 867.2,823.1 874.9,824.1 882.7,826.9 890.4,829.1 898.1,829.3 905.9,829.3 913.6,830.4 921.3,834.9 929.1,845.0 936.8,851.0 944.5,851.2 952.3,850.0 960.0,847.4 967.7,838.2 975.5,833.0 983.2,829.8 990.9,828.2 998.7,823.8 1006.4,821.2 1014.2,817.2 1021.9,817.7 1029.6,818.4 1037.4,818.4 1045.1,818.2 1052.8,817.4 1060.6,815.1 1068.3,811.9 1076.0,808.3 1083.8,806.3 1091.5,805.4 1099.2,804.6 1107.0,803.8 1114.7,804.4 1122.4,806.9 1130.2,806.3 1137.9,805.2 1145.6,806.5 1153.4,810.2 1161.1,810.3 1168.8,809.3 1176.6,808.6 1184.3,810.1 1192.1,811.0 1199.8,809.7 1207.5,808.7 1215.3,808.4 1223.0,806.7 1230.7,804.6 1238.5,802.6 1246.2,798.0 1253.9,799.0 1261.7,800.3 1269.4,801.8 1277.1,802.9 1284.9,803.1 1292.6,801.6 1300.3,801.3 1308.1,801.9 1315.8,803.8 1323.5,807.2 1331.3,808.1 1339.0,812.4 1346.8,807.6 1354.5,808.1 1362.2,809.1 1370.0,810.3 1377.7,812.5 1385.4,822.0 1393.9,826.3 1393.9,815.6" fill="#8aafec"/>
<polyline points="0.9,842.7 8.6,845.6 16.3,848.7 24.1,853.6 31.8,860.2 39.5,867.0 47.3,874.0 55.0,881.2 62.7,888.6 70.5,895.8 78.2,902.6 86.0,907.8 93.7,911.7 101.4,914.7 109.2,917.0 116.9,918.7 124.6,919.8 132.4,919.6 140.1,918.2 147.8,915.9 155.6,912.9 163.3,909.9 171.0,906.8 178.8,903.7 186.5,900.6 194.2,897.4 202.0,894.2 209.7,890.9 217.4,887.7 225.2,884.4 232.9,881.0 240.7,877.2 248.4,872.0 256.1,865.0 263.9,856.5 271.6,848.9 279.3,843.0 287.1,837.0 294.8,831.1 302.5,825.3 310.3,821.5 318.0,820.1 325.7,818.8 333.5,817.2 341.2,815.6 348.9,813.9 356.7,811.9 364.4,809.5 372.1,806.8 379.9,803.8 387.6,800.8 395.4,797.0 403.1,792.7 410.8,788.5 418.6,784.7 426.3,782.2 434.0,782.4 441.8,784.1 449.5,786.5 457.2,789.3 465.0,793.2 472.7,797.2 480.4,798.9 488.2,800.0 495.9,800.9 503.6,801.7 511.4,802.4 519.1,803.1 526.8,803.8 534.6,804.3 542.3,804.7 550.1,804.6 557.8,804.0 565.5,803.3 573.3,802.5 581.0,801.5 588.7,799.8 596.5,798.3 604.2,797.4 611.9,797.1 619.7,797.4 627.4,797.9 635.1,798.6 642.9,800.4 650.6,799.1 658.3,796.8 666.1,794.3 673.8,791.6 681.5,787.7 689.3,785.8 697.0,785.2 704.8,785.6 712.5,786.7 720.2,788.1 728.0,789.3 735.7,790.1 743.4,790.4 751.2,790.5 758.9,790.4 766.6,790.2 774.4,789.7 782.1,788.9 789.8,787.9 797.6,785.4 805.3,782.5 813.0,780.9 820.8,780.3 828.5,780.6 836.2,781.4 844.0,782.8 851.7,784.8 859.5,786.8 867.2,788.9 874.9,791.0 882.7,793.2 890.4,797.1 898.1,800.4 905.9,803.6 913.6,806.9 921.3,813.3 929.1,820.7 936.8,827.8 944.5,837.2 952.3,846.3 960.0,853.7 967.7,859.2 975.5,863.1 983.2,866.0 990.9,868.6 998.7,871.2 1006.4,873.2 1014.2,873.9 1021.9,874.2 1029.6,874.6 1037.4,875.3 1045.1,876.1 1052.8,876.8 1060.6,876.6 1068.3,874.8 1076.0,872.9 1083.8,870.7 1091.5,867.3 1099.2,863.1 1107.0,860.4 1114.7,857.9 1122.4,855.3 1130.2,852.6 1137.9,849.8 1145.6,847.5 1153.4,847.0 1161.1,846.2 1168.8,844.2 1176.6,842.2 1184.3,840.7 1192.1,839.6 1199.8,838.6 1207.5,837.3 1215.3,835.6 1223.0,833.5 1230.7,830.9 1238.5,827.8 1246.2,822.8 1253.9,818.9 1261.7,815.7 1269.4,812.5 1277.1,809.2 1284.9,805.9 1292.6,802.6 1300.3,799.3 1308.1,796.4 1315.8,794.0 1323.5,791.8 1331.3,789.7 1339.0,787.7 1346.8,785.8 1354.5,784.1 1362.2,782.5 1370.0,781.3 1377.7,781.1 1385.4,782.4 1393.9,785.4" fill="none" stroke="rgba(0,255,0,0.7)" stroke-width="2.5" stroke-linejoin="round"/>
<polyline points="0.9,854.5 8.6,858.8 16.3,863.7 24.1,871.4 31.8,884.5 39.5,895.8 47.3,901.2 55.0,907.0 62.7,915.0 70.5,922.0 78.2,926.9 86.0,929.6 93.7,928.7 101.4,927.0 109.2,926.1 116.9,925.5 124.6,924.2 132.4,919.4 140.1,912.0 147.8,905.9 155.6,902.9 163.3,900.1 171.0,895.0 178.8,889.1 186.5,884.7 194.2,883.3 202.0,881.2 209.7,879.2 217.4,876.5 225.2,872.4 232.9,866.2 240.7,857.7 248.4,848.0 256.1,838.1 263.9,827.8 271.6,818.0 279.3,811.9 287.1,809.3 294.8,808.2 302.5,809.2 310.3,811.0 318.0,812.0 325.7,812.1 333.5,810.9 341.2,809.1 348.9,807.2 356.7,804.1 364.4,799.3 372.1,794.2 379.9,789.0 387.6,783.8 395.4,778.7 403.1,775.0 410.8,772.6 418.6,771.2 426.3,773.5 434.0,779.1 441.8,787.6 449.5,796.4 457.2,803.0 465.0,808.0 472.7,810.3 480.4,808.9 488.2,806.8 495.9,805.4 503.6,804.8 511.4,804.8 519.1,807.2 526.8,808.5 534.6,806.1 542.3,803.5 550.1,802.4 557.8,801.6 565.5,800.0 573.3,796.7 581.0,794.9 588.7,793.9 596.5,793.6 604.2,794.2 611.9,796.2 619.7,799.4 627.4,801.8 635.1,800.4 642.9,805.2 650.6,799.4 658.3,789.4 666.1,781.1 673.8,774.4 681.5,772.2 689.3,779.5 697.0,784.6 704.8,789.1 712.5,791.9 720.2,793.0 728.0,793.5 735.7,793.4 743.4,793.1 751.2,792.6 758.9,791.5 766.6,789.6 774.4,786.9 782.1,782.9 789.8,778.6 797.6,775.6 805.3,774.7 813.0,775.0 820.8,778.4 828.5,782.8 836.2,786.6 844.0,789.7 851.7,792.6 859.5,795.2 867.2,796.4 874.9,799.6 882.7,804.6 890.4,810.5 898.1,814.0 905.9,817.4 913.6,821.7 921.3,832.6 929.1,850.0 936.8,863.2 944.5,872.8 952.3,880.7 960.0,885.5 967.7,881.8 975.5,880.5 983.2,880.2 990.9,881.2 998.7,879.4 1006.4,878.8 1014.2,875.5 1021.9,876.3 1029.6,877.4 1037.4,878.1 1045.1,878.7 1052.8,878.5 1060.6,876.1 1068.3,871.1 1076.0,865.6 1083.8,861.4 1091.5,857.0 1099.2,852.2 1107.0,848.6 1114.7,846.7 1122.4,846.6 1130.2,843.3 1137.9,839.4 1145.6,838.5 1153.4,841.7 1161.1,840.8 1168.8,837.9 1176.6,835.2 1184.3,835.2 1192.1,835.1 1199.8,832.6 1207.5,830.4 1215.3,828.4 1223.0,824.6 1230.7,819.9 1238.5,814.8 1246.2,805.2 1253.9,802.3 1261.7,800.4 1269.4,798.7 1277.1,796.5 1284.9,793.4 1292.6,788.6 1300.3,785.0 1308.1,782.7 1315.8,782.2 1323.5,783.4 1331.3,782.2 1339.0,784.4 1346.8,777.8 1354.5,776.7 1362.2,776.0 1370.0,776.0 1377.7,778.0 1385.4,788.9 1393.9,796.1" fill="none" stroke="rgba(255,0,0,0.7)" stroke-width="2.5" stroke-linejoin="round"/>
</g>
<line x1="5" y1="562.5" x2="1651" y2="562.5" stroke="#555555" stroke-width="1"/>
<line x1="5" y1="761.5" x2="1651" y2="761.5" stroke="#555555" stroke-width="1"/>
<line x1="5" y1="940.5" x2="1594.5" y2="940.5" stroke="#555555" stroke-width="1"/>
<line x1="1594.5" y1="4" x2="1594.5" y2="941" stroke="#555555" stroke-width="1"/>
<text x="1601.5" y="42.0" font-size="11" fill="#555" font-weight="normal" text-anchor="start" textLength="45.0" lengthAdjust="spacingAndGlyphs">1328.000</text>
<text x="1601.5" y="84.1" font-size="11" fill="#555" font-weight="normal" text-anchor="start" textLength="45.0" lengthAdjust="spacingAndGlyphs">1324.000</text>
<text x="1601.5" y="168.4" font-size="11" fill="#555" font-weight="normal" text-anchor="start" textLength="45.0" lengthAdjust="spacingAndGlyphs">1316.000</text>
<text x="1601.5" y="210.5" font-size="11" fill="#555" font-weight="normal" text-anchor="start" textLength="45.0" lengthAdjust="spacingAndGlyphs">1312.000</text>
<text x="1601.5" y="252.6" font-size="11" fill="#555" font-weight="normal" text-anchor="start" textLength="45.0" lengthAdjust="spacingAndGlyphs">1308.000</text>
<text x="1601.5" y="294.7" font-size="11" fill="#555" font-weight="normal" text-anchor="start" textLength="45.0" lengthAdjust="spacingAndGlyphs">1304.000</text>
<text x="1601.5" y="379.0" font-size="11" fill="#555" font-weight="normal" text-anchor="start" textLength="45.0" lengthAdjust="spacingAndGlyphs">1296.000</text>
<text x="1601.5" y="421.1" font-size="11" fill="#555" font-weight="normal" text-anchor="start" textLength="45.0" lengthAdjust="spacingAndGlyphs">1292.000</text>
<text x="1601.5" y="463.2" font-size="11" fill="#555" font-weight="normal" text-anchor="start" textLength="45.0" lengthAdjust="spacingAndGlyphs">1288.000</text>
<text x="1601.5" y="505.3" font-size="11" fill="#555" font-weight="normal" text-anchor="start" textLength="45.0" lengthAdjust="spacingAndGlyphs">1284.000</text>
<text x="1601.5" y="575.4" font-size="11" fill="#555" font-weight="normal" text-anchor="start" textLength="45.0" lengthAdjust="spacingAndGlyphs">100.0000</text>
<text x="1601.5" y="611.4" font-size="11" fill="#555" font-weight="normal" text-anchor="start" textLength="39.4" lengthAdjust="spacingAndGlyphs">80.0000</text>
<text x="1601.5" y="647.4" font-size="11" fill="#555" font-weight="normal" text-anchor="start" textLength="39.4" lengthAdjust="spacingAndGlyphs">60.0000</text>
<text x="1601.5" y="683.4" font-size="11" fill="#555" font-weight="normal" text-anchor="start" textLength="39.4" lengthAdjust="spacingAndGlyphs">40.0000</text>
<text x="1601.5" y="719.4" font-size="11" fill="#555" font-weight="normal" text-anchor="start" textLength="39.4" lengthAdjust="spacingAndGlyphs">20.0000</text>
<text x="1601.5" y="755.4" font-size="11" fill="#555" font-weight="normal" text-anchor="start" textLength="33.8" lengthAdjust="spacingAndGlyphs">0.0000</text>
<text x="1601.5" y="791.4" font-size="11" fill="#555" font-weight="normal" text-anchor="start" textLength="33.0" lengthAdjust="spacingAndGlyphs">2.5000</text>
<text x="1601.5" y="819.6" font-size="11" fill="#555" font-weight="normal" text-anchor="start" textLength="33.0" lengthAdjust="spacingAndGlyphs">0.0000</text>
<text x="1601.5" y="847.9" font-size="11" fill="#555" font-weight="normal" text-anchor="start" textLength="38.5" lengthAdjust="spacingAndGlyphs">-2.5000</text>
<text x="1601.5" y="876.1" font-size="11" fill="#555" font-weight="normal" text-anchor="start" textLength="38.5" lengthAdjust="spacingAndGlyphs">-5.0000</text>
<text x="1601.5" y="904.4" font-size="11" fill="#555" font-weight="normal" text-anchor="start" textLength="38.5" lengthAdjust="spacingAndGlyphs">-7.5000</text>
<text x="1601.5" y="932.6" font-size="11" fill="#555" font-weight="normal" text-anchor="start" textLength="44.0" lengthAdjust="spacingAndGlyphs">-10.0000</text>
<path d="M1594.5,38.0H1598.5M1594.5,80.1H1598.5M1594.5,164.4H1598.5M1594.5,206.5H1598.5M1594.5,248.6H1598.5M1594.5,290.7H1598.5M1594.5,375.0H1598.5M1594.5,417.1H1598.5M1594.5,459.2H1598.5M1594.5,501.3H1598.5M1594.5,571.4H1598.5M1594.5,607.4H1598.5M1594.5,643.4H1598.5M1594.5,679.4H1598.5M1594.5,715.4H1598.5M1594.5,751.4H1598.5M1594.5,787.4H1598.5M1594.5,815.6H1598.5M1594.5,843.9H1598.5M1594.5,872.1H1598.5M1594.5,900.4H1598.5M1594.5,928.6H1598.5" stroke="#555555" stroke-width="1"/>
<rect x="1594" y="115" width="57" height="16" fill="#000000"/>
<line x1="1595" y1="123.0" x2="1598" y2="123.0" stroke="#fff" stroke-width="1"/>
<text x="1601.5" y="127.0" font-size="11" fill="#ffffff" font-weight="bold" text-anchor="start" textLength="45.0" lengthAdjust="spacingAndGlyphs">1320.000</text>
<rect x="1594" y="325" width="57" height="16" fill="#000000"/>
<line x1="1595" y1="333.0" x2="1598" y2="333.0" stroke="#fff" stroke-width="1"/>
<text x="1601.5" y="337.0" font-size="11" fill="#ffffff" font-weight="bold" text-anchor="start" textLength="45.0" lengthAdjust="spacingAndGlyphs">1300.000</text>
<rect x="1594" y="341" width="57" height="16" fill="#6aa383"/>
<line x1="1595" y1="349.0" x2="1598" y2="349.0" stroke="#fff" stroke-width="1"/>
<text x="1601.5" y="353.0" font-size="11" fill="#ffffff" font-weight="bold" text-anchor="start" textLength="45.0" lengthAdjust="spacingAndGlyphs">1299.438</text>
<rect x="1594" y="536" width="57" height="16" fill="#0000f0"/>
<line x1="1595" y1="544.0" x2="1598" y2="544.0" stroke="#fff" stroke-width="1"/>
<text x="1601.5" y="548.0" font-size="11" fill="#ffffff" font-weight="bold" text-anchor="start" textLength="45.0" lengthAdjust="spacingAndGlyphs">1280.000</text>
<g clip-path="url(#cTime)"><text x="9.5" y="955.0" font-size="11" fill="#555" font-weight="bold" text-anchor="middle">Mar</text></g>
<g clip-path="url(#cTime)"><text x="102.5" y="955.0" font-size="11" fill="#555" font-weight="normal" text-anchor="middle">5</text></g>
<g clip-path="url(#cTime)"><text x="195.4" y="955.0" font-size="11" fill="#555" font-weight="normal" text-anchor="middle">7</text></g>
<g clip-path="url(#cTime)"><text x="280.5" y="955.0" font-size="11" fill="#555" font-weight="normal" text-anchor="middle">10</text></g>
<g clip-path="url(#cTime)"><text x="381.2" y="955.0" font-size="11" fill="#555" font-weight="normal" text-anchor="middle">13</text></g>
<g clip-path="url(#cTime)"><text x="473.5" y="955.0" font-size="11" fill="#555" font-weight="normal" text-anchor="middle">15</text></g>
<g clip-path="url(#cTime)"><text x="574.2" y="955.0" font-size="11" fill="#555" font-weight="normal" text-anchor="middle">19</text></g>
<g clip-path="url(#cTime)"><text x="666.8" y="955.0" font-size="11" fill="#555" font-weight="normal" text-anchor="middle">21</text></g>
<g clip-path="url(#cTime)"><text x="760.1" y="955.0" font-size="11" fill="#555" font-weight="normal" text-anchor="middle">24</text></g>
<g clip-path="url(#cTime)"><text x="860.4" y="955.0" font-size="11" fill="#555" font-weight="normal" text-anchor="middle">27</text></g>
<g clip-path="url(#cTime)"><text x="1000.5" y="955.0" font-size="11" fill="#555" font-weight="bold" text-anchor="middle">Apr</text></g>
<g clip-path="url(#cTime)"><text x="1093.0" y="955.0" font-size="11" fill="#555" font-weight="normal" text-anchor="middle">3</text></g>
<g clip-path="url(#cTime)"><text x="1185.2" y="955.0" font-size="11" fill="#555" font-weight="normal" text-anchor="middle">5</text></g>
<g clip-path="url(#cTime)"><text x="1278.1" y="955.0" font-size="11" fill="#555" font-weight="normal" text-anchor="middle">9</text></g>
<g clip-path="url(#cTime)"><text x="1371.0" y="955.0" font-size="11" fill="#555" font-weight="normal" text-anchor="middle">11</text></g>
<g clip-path="url(#cTime)"><text x="1456.8" y="955.0" font-size="11" fill="#555" font-weight="normal" text-anchor="middle">14</text></g>
<g clip-path="url(#cTime)"><text x="1557.0" y="955.0" font-size="11" fill="#555" font-weight="normal" text-anchor="middle">17</text></g>
<path d="M9.5,940.5V943.5M102.5,940.5V943.5M195.4,940.5V943.5M280.5,940.5V943.5M381.2,940.5V943.5M473.5,940.5V943.5M574.2,940.5V943.5M666.8,940.5V943.5M760.1,940.5V943.5M860.4,940.5V943.5M1000.5,940.5V943.5M1093.0,940.5V943.5M1185.2,940.5V943.5M1278.1,940.5V943.5M1371.0,940.5V943.5M1456.8,940.5V943.5M1557.0,940.5V943.5" stroke="#555555" stroke-width="1"/>
<rect x="5" y="959" width="1645" height="20" fill="#e3e4e7"/>
<text x="18.6" y="973.2" font-size="12" fill="#888" font-weight="bold" text-anchor="start" textLength="11.6" lengthAdjust="spacingAndGlyphs">5y</text>
<text x="57.0" y="973.2" font-size="12" fill="#888" font-weight="bold" text-anchor="start" textLength="11.7" lengthAdjust="spacingAndGlyphs">1y</text>
<text x="95.0" y="973.2" font-size="12" fill="#888" font-weight="bold" text-anchor="start" textLength="15.3" lengthAdjust="spacingAndGlyphs">6m</text>
<text x="136.9" y="973.2" font-size="12" fill="#888" font-weight="bold" text-anchor="start" textLength="15.2" lengthAdjust="spacingAndGlyphs">3m</text>
<text x="179.1" y="973.2" font-size="12" fill="#888" font-weight="bold" text-anchor="start" textLength="15.2" lengthAdjust="spacingAndGlyphs">1m</text>
<text x="220.7" y="973.2" font-size="12" fill="#888" font-weight="bold" text-anchor="start" textLength="12.7" lengthAdjust="spacingAndGlyphs">5d</text>
<text x="259.8" y="973.2" font-size="12" fill="#888" font-weight="bold" text-anchor="start" textLength="12.3" lengthAdjust="spacingAndGlyphs">1d</text>
<text x="297.8" y="973.2" font-size="12" fill="#888" font-weight="bold" text-anchor="start" textLength="39.5" lengthAdjust="spacingAndGlyphs">Go to...</text>
<path d="M42.7,962V976M81.5,962V976M123.6,962V976M164.3,962V976M206.6,962V976M245.7,962V976M284.8,962V976M1447.7,962V976M1480.5,962V976M1521.5,962V976M1570.4,962V976M1610.7,962V976" stroke="#aaaaaa" stroke-width="1"/>
<text x="1344.5" y="973.0" font-size="11" fill="#888" font-weight="bold" text-anchor="start" textLength="45.9" lengthAdjust="spacingAndGlyphs">14:50:23</text>
<text x="1395.8" y="973.0" font-size="11" fill="#888" font-weight="normal" text-anchor="start" textLength="38.2" lengthAdjust="spacingAndGlyphs">(UTC+1)</text>
<text x="1460.4" y="973.0" font-size="11" fill="#888" font-weight="bold" text-anchor="start" textLength="7.4" lengthAdjust="spacingAndGlyphs">%</text>
<text x="1494.4" y="973.0" font-size="11" fill="#888" font-weight="bold" text-anchor="start" textLength="14.5" lengthAdjust="spacingAndGlyphs">log</text>
<text x="1534.9" y="973.0" font-size="12" fill="#3bb3e4" font-weight="bold" text-anchor="start" textLength="23.0" lengthAdjust="spacingAndGlyphs">auto</text>
<g transform="translate(1591.3,969)"><circle r="3.6" fill="none" stroke="#8a8a8a" stroke-width="2"/><rect x="-1.1" y="-6" width="2.2" height="2.6" fill="#8a8a8a" transform="rotate(0)"/><rect x="-1.1" y="-6" width="2.2" height="2.6" fill="#8a8a8a" transform="rotate(45)"/><rect x="-1.1" y="-6" width="2.2" height="2.6" fill="#8a8a8a" transform="rotate(90)"/><rect x="-1.1" y="-6" width="2.2" height="2.6" fill="#8a8a8a" transform="rotate(135)"/><rect x="-1.1" y="-6" width="2.2" height="2.6" fill="#8a8a8a" transform="rotate(180)"/><rect x="-1.1" y="-6" width="2.2" height="2.6" fill="#8a8a8a" transform="rotate(225)"/><rect x="-1.1" y="-6" width="2.2" height="2.6" fill="#8a8a8a" transform="rotate(270)"/><rect x="-1.1" y="-6" width="2.2" height="2.6" fill="#8a8a8a" transform="rotate(315)"/></g>
<g fill="#4ec0e6"><path d="M1625,963h5.2l-1.8,1.8 2.2,2.2-1.4,1.4-2.2-2.2-1.8,1.8z"/><path d="M1637.2,963h-5.2l1.8,1.8-2.2,2.2 1.4,1.4 2.2-2.2 1.8,1.8z"/><path d="M1625,975.2h5.2l-1.8-1.8 2.2-2.2-1.4-1.4-2.2,2.2-1.8-1.8z"/><path d="M1637.2,975.2h-5.2l1.8-1.8-2.2-2.2 1.4-1.4 2.2,2.2 1.8-1.8z"/></g>
<path d="M1653,453.5H1657M1653,479.5H1657" stroke="#d3d6d9" stroke-width="1"/>
<path d="M1654.3,466.5L1657.5,462.8V470.2z" fill="#c4c6c8"/>
<rect x="10.5" y="16.5" width="12" height="12" rx="1.5" fill="none" stroke="#555" stroke-width="1"/><line x1="13" y1="22.5" x2="20" y2="22.5" stroke="#555" stroke-width="1"/>
<text x="29.6" y="28.6" font-size="16" fill="#4a4a4a" font-weight="normal" text-anchor="start" textLength="136.4" lengthAdjust="spacingAndGlyphs">Gold, 240, OANDA</text>
<path d="M170.6,20.8H177.4L174.0,24.2z" fill="#b5b5b5"/>
<rect x="187.8" y="16.3" width="13.7" height="13.5" fill="#d9d9d9"/><ellipse cx="194.7" cy="23.1" rx="4.6" ry="3.6" fill="none" stroke="#fff" stroke-width="1.3"/><circle cx="194.7" cy="23.1" r="1.5" fill="#fff"/><rect x="205.0" y="16.3" width="13.7" height="13.5" fill="#d9d9d9"/><circle cx="211.8" cy="23.1" r="3" fill="none" stroke="#fff" stroke-width="1.8"/><rect x="210.9" y="18.1" width="1.8" height="2.2" fill="#fff" transform="rotate(0 211.8 23.1)"/><rect x="210.9" y="18.1" width="1.8" height="2.2" fill="#fff" transform="rotate(45 211.8 23.1)"/><rect x="210.9" y="18.1" width="1.8" height="2.2" fill="#fff" transform="rotate(90 211.8 23.1)"/><rect x="210.9" y="18.1" width="1.8" height="2.2" fill="#fff" transform="rotate(135 211.8 23.1)"/><rect x="210.9" y="18.1" width="1.8" height="2.2" fill="#fff" transform="rotate(180 211.8 23.1)"/><rect x="210.9" y="18.1" width="1.8" height="2.2" fill="#fff" transform="rotate(225 211.8 23.1)"/><rect x="210.9" y="18.1" width="1.8" height="2.2" fill="#fff" transform="rotate(270 211.8 23.1)"/><rect x="210.9" y="18.1" width="1.8" height="2.2" fill="#fff" transform="rotate(315 211.8 23.1)"/>
<text x="227.8" y="28.9" font-size="14" fill="#555" font-weight="normal" text-anchor="start" textLength="8.6" lengthAdjust="spacingAndGlyphs">O</text>
<text x="240.5" y="28.9" font-size="14" fill="#21633a" font-weight="normal" text-anchor="start" textLength="57.9" lengthAdjust="spacingAndGlyphs">1295.524</text>
<text x="308.7" y="28.9" font-size="14" fill="#555" font-weight="normal" text-anchor="start" textLength="8.8" lengthAdjust="spacingAndGlyphs">H</text>
<text x="320.6" y="28.9" font-size="14" fill="#21633a" font-weight="normal" text-anchor="start" textLength="57.9" lengthAdjust="spacingAndGlyphs">1299.713</text>
<text x="390.0" y="28.9" font-size="14" fill="#555" font-weight="normal" text-anchor="start" textLength="7.0" lengthAdjust="spacingAndGlyphs">L</text>
<text x="400.0" y="28.9" font-size="14" fill="#21633a" font-weight="normal" text-anchor="start" textLength="57.8" lengthAdjust="spacingAndGlyphs">1294.828</text>
<text x="468.5" y="28.9" font-size="14" fill="#555" font-weight="normal" text-anchor="start" textLength="8.2" lengthAdjust="spacingAndGlyphs">C</text>
<text x="479.8" y="28.9" font-size="14" fill="#21633a" font-weight="normal" text-anchor="start" textLength="58.1" lengthAdjust="spacingAndGlyphs">1299.438</text>
<text x="9.8" y="48.1" font-size="11" fill="#555" font-weight="normal" text-anchor="start" textLength="89.7" lengthAdjust="spacingAndGlyphs">MA (55, close, 0)</text>
<path d="M104.8,43.1H111.6L108.2,46.5z" fill="#b5b5b5"/>
<rect x="121.9" y="37.1" width="13.8" height="13.6" fill="#d9d9d9"/><ellipse cx="128.8" cy="43.9" rx="4.6" ry="3.6" fill="none" stroke="#fff" stroke-width="1.3"/><circle cx="128.8" cy="43.9" r="1.5" fill="#fff"/><rect x="138.9" y="37.1" width="13.8" height="13.6" fill="#d9d9d9"/><circle cx="145.8" cy="43.9" r="3" fill="none" stroke="#fff" stroke-width="1.8"/><rect x="144.9" y="38.9" width="1.8" height="2.2" fill="#fff" transform="rotate(0 145.8 43.9)"/><rect x="144.9" y="38.9" width="1.8" height="2.2" fill="#fff" transform="rotate(45 145.8 43.9)"/><rect x="144.9" y="38.9" width="1.8" height="2.2" fill="#fff" transform="rotate(90 145.8 43.9)"/><rect x="144.9" y="38.9" width="1.8" height="2.2" fill="#fff" transform="rotate(135 145.8 43.9)"/><rect x="144.9" y="38.9" width="1.8" height="2.2" fill="#fff" transform="rotate(180 145.8 43.9)"/><rect x="144.9" y="38.9" width="1.8" height="2.2" fill="#fff" transform="rotate(225 145.8 43.9)"/><rect x="144.9" y="38.9" width="1.8" height="2.2" fill="#fff" transform="rotate(270 145.8 43.9)"/><rect x="144.9" y="38.9" width="1.8" height="2.2" fill="#fff" transform="rotate(315 145.8 43.9)"/><rect x="155.9" y="37.1" width="13.8" height="13.6" fill="#d9d9d9"/><path d="M158.8,39.9L166.8,47.9M166.8,39.9L158.8,47.9" stroke="#fff" stroke-width="1.3"/>
<text x="178.7" y="48.1" font-size="11" fill="#a020f0" font-weight="normal" text-anchor="start" textLength="54.0" lengthAdjust="spacingAndGlyphs">1295.4409</text>
<text x="9.8" y="68.2" font-size="11" fill="#555" font-weight="normal" text-anchor="start" textLength="89.7" lengthAdjust="spacingAndGlyphs">MA (89, close, 0)</text>
<path d="M104.8,63.2H111.6L108.2,66.6z" fill="#b5b5b5"/>
<rect x="121.9" y="57.1" width="13.8" height="13.6" fill="#d9d9d9"/><ellipse cx="128.8" cy="63.9" rx="4.6" ry="3.6" fill="none" stroke="#fff" stroke-width="1.3"/><circle cx="128.8" cy="63.9" r="1.5" fill="#fff"/><rect x="138.9" y="57.1" width="13.8" height="13.6" fill="#d9d9d9"/><circle cx="145.8" cy="63.9" r="3" fill="none" stroke="#fff" stroke-width="1.8"/><rect x="144.9" y="58.9" width="1.8" height="2.2" fill="#fff" transform="rotate(0 145.8 63.9)"/><rect x="144.9" y="58.9" width="1.8" height="2.2" fill="#fff" transform="rotate(45 145.8 63.9)"/><rect x="144.9" y="58.9" width="1.8" height="2.2" fill="#fff" transform="rotate(90 145.8 63.9)"/><rect x="144.9" y="58.9" width="1.8" height="2.2" fill="#fff" transform="rotate(135 145.8 63.9)"/><rect x="144.9" y="58.9" width="1.8" height="2.2" fill="#fff" transform="rotate(180 145.8 63.9)"/><rect x="144.9" y="58.9" width="1.8" height="2.2" fill="#fff" transform="rotate(225 145.8 63.9)"/><rect x="144.9" y="58.9" width="1.8" height="2.2" fill="#fff" transform="rotate(270 145.8 63.9)"/><rect x="144.9" y="58.9" width="1.8" height="2.2" fill="#fff" transform="rotate(315 145.8 63.9)"/><rect x="155.9" y="57.1" width="13.8" height="13.6" fill="#d9d9d9"/><path d="M158.8,59.9L166.8,67.9M166.8,59.9L158.8,67.9" stroke="#fff" stroke-width="1.3"/>
<text x="178.7" y="68.2" font-size="11" fill="#a020f0" font-weight="normal" text-anchor="start" textLength="54.0" lengthAdjust="spacingAndGlyphs">1301.1409</text>
<text x="9.8" y="88.1" font-size="11" fill="#555" font-weight="normal" text-anchor="start" textLength="96.5" lengthAdjust="spacingAndGlyphs">MA (233, close, 0)</text>
<path d="M111.3,83.1H118.1L114.7,86.5z" fill="#b5b5b5"/>
<rect x="129.0" y="77.2" width="13.8" height="13.6" fill="#d9d9d9"/><ellipse cx="135.9" cy="84.0" rx="4.6" ry="3.6" fill="none" stroke="#fff" stroke-width="1.3"/><circle cx="135.9" cy="84.0" r="1.5" fill="#fff"/><rect x="146.0" y="77.2" width="13.8" height="13.6" fill="#d9d9d9"/><circle cx="152.9" cy="84.0" r="3" fill="none" stroke="#fff" stroke-width="1.8"/><rect x="152.0" y="79.0" width="1.8" height="2.2" fill="#fff" transform="rotate(0 152.9 84.0)"/><rect x="152.0" y="79.0" width="1.8" height="2.2" fill="#fff" transform="rotate(45 152.9 84.0)"/><rect x="152.0" y="79.0" width="1.8" height="2.2" fill="#fff" transform="rotate(90 152.9 84.0)"/><rect x="152.0" y="79.0" width="1.8" height="2.2" fill="#fff" transform="rotate(135 152.9 84.0)"/><rect x="152.0" y="79.0" width="1.8" height="2.2" fill="#fff" transform="rotate(180 152.9 84.0)"/><rect x="152.0" y="79.0" width="1.8" height="2.2" fill="#fff" transform="rotate(225 152.9 84.0)"/><rect x="152.0" y="79.0" width="1.8" height="2.2" fill="#fff" transform="rotate(270 152.9 84.0)"/><rect x="152.0" y="79.0" width="1.8" height="2.2" fill="#fff" transform="rotate(315 152.9 84.0)"/><rect x="163.0" y="77.2" width="13.8" height="13.6" fill="#d9d9d9"/><path d="M165.9,80.0L173.9,88.0M173.9,80.0L165.9,88.0" stroke="#fff" stroke-width="1.3"/>
<text x="185.0" y="88.1" font-size="11" fill="#ff0000" font-weight="normal" text-anchor="start" textLength="53.8" lengthAdjust="spacingAndGlyphs">1306.4044</text>
<text x="9.8" y="108.0" font-size="11" fill="#555" font-weight="normal" text-anchor="start" textLength="96.5" lengthAdjust="spacingAndGlyphs">MA (200, close, 0)</text>
<path d="M111.3,103.0H118.1L114.7,106.4z" fill="#b5b5b5"/>
<rect x="129.0" y="97.4" width="13.8" height="13.6" fill="#d9d9d9"/><ellipse cx="135.9" cy="104.2" rx="4.6" ry="3.6" fill="none" stroke="#fff" stroke-width="1.3"/><circle cx="135.9" cy="104.2" r="1.5" fill="#fff"/><rect x="146.0" y="97.4" width="13.8" height="13.6" fill="#d9d9d9"/><circle cx="152.9" cy="104.2" r="3" fill="none" stroke="#fff" stroke-width="1.8"/><rect x="152.0" y="99.2" width="1.8" height="2.2" fill="#fff" transform="rotate(0 152.9 104.2)"/><rect x="152.0" y="99.2" width="1.8" height="2.2" fill="#fff" transform="rotate(45 152.9 104.2)"/><rect x="152.0" y="99.2" width="1.8" height="2.2" fill="#fff" transform="rotate(90 152.9 104.2)"/><rect x="152.0" y="99.2" width="1.8" height="2.2" fill="#fff" transform="rotate(135 152.9 104.2)"/><rect x="152.0" y="99.2" width="1.8" height="2.2" fill="#fff" transform="rotate(180 152.9 104.2)"/><rect x="152.0" y="99.2" width="1.8" height="2.2" fill="#fff" transform="rotate(225 152.9 104.2)"/><rect x="152.0" y="99.2" width="1.8" height="2.2" fill="#fff" transform="rotate(270 152.9 104.2)"/><rect x="152.0" y="99.2" width="1.8" height="2.2" fill="#fff" transform="rotate(315 152.9 104.2)"/><rect x="163.0" y="97.4" width="13.8" height="13.6" fill="#d9d9d9"/><path d="M165.9,100.2L173.9,108.2M173.9,100.2L165.9,108.2" stroke="#fff" stroke-width="1.3"/>
<text x="185.0" y="108.0" font-size="11" fill="#ff0000" font-weight="normal" text-anchor="start" textLength="53.8" lengthAdjust="spacingAndGlyphs">1302.1647</text>
<text x="10.0" y="582.0" font-size="11" fill="#555" font-weight="normal" text-anchor="start" textLength="82.6" lengthAdjust="spacingAndGlyphs">Stoch (14, 1, 3)</text>
<path d="M97.8,577.0H104.4L101.1,580.4z" fill="#b5b5b5"/>
<rect x="114.9" y="572.0" width="13.8" height="13.6" fill="#d9d9d9"/><ellipse cx="121.8" cy="578.8" rx="4.6" ry="3.6" fill="none" stroke="#fff" stroke-width="1.3"/><circle cx="121.8" cy="578.8" r="1.5" fill="#fff"/><rect x="131.9" y="572.0" width="13.8" height="13.6" fill="#d9d9d9"/><circle cx="138.8" cy="578.8" r="3" fill="none" stroke="#fff" stroke-width="1.8"/><rect x="137.9" y="573.8" width="1.8" height="2.2" fill="#fff" transform="rotate(0 138.8 578.8)"/><rect x="137.9" y="573.8" width="1.8" height="2.2" fill="#fff" transform="rotate(45 138.8 578.8)"/><rect x="137.9" y="573.8" width="1.8" height="2.2" fill="#fff" transform="rotate(90 138.8 578.8)"/><rect x="137.9" y="573.8" width="1.8" height="2.2" fill="#fff" transform="rotate(135 138.8 578.8)"/><rect x="137.9" y="573.8" width="1.8" height="2.2" fill="#fff" transform="rotate(180 138.8 578.8)"/><rect x="137.9" y="573.8" width="1.8" height="2.2" fill="#fff" transform="rotate(225 138.8 578.8)"/><rect x="137.9" y="573.8" width="1.8" height="2.2" fill="#fff" transform="rotate(270 138.8 578.8)"/><rect x="137.9" y="573.8" width="1.8" height="2.2" fill="#fff" transform="rotate(315 138.8 578.8)"/><rect x="148.9" y="572.0" width="13.8" height="13.6" fill="#d9d9d9"/><path d="M151.8,574.8L159.8,582.8M159.8,574.8L151.8,582.8" stroke="#fff" stroke-width="1.3"/>
<text x="171.0" y="582.0" font-size="11" fill="#ff0000" font-weight="normal" text-anchor="start" textLength="41.7" lengthAdjust="spacingAndGlyphs">29.1883</text>
<text x="223.0" y="582.0" font-size="11" fill="#00d000" font-weight="normal" text-anchor="start" textLength="42.4" lengthAdjust="spacingAndGlyphs">29.8836</text>
<text x="9.8" y="781.2" font-size="11" fill="#555" font-weight="normal" text-anchor="start" textLength="125.1" lengthAdjust="spacingAndGlyphs">MACD (12, 26, close, 9)</text>
<path d="M139.5,776.0H146.3L142.9,779.4z" fill="#b5b5b5"/>
<rect x="157.0" y="770.6" width="13.8" height="13.6" fill="#d9d9d9"/><ellipse cx="163.9" cy="777.4" rx="4.6" ry="3.6" fill="none" stroke="#fff" stroke-width="1.3"/><circle cx="163.9" cy="777.4" r="1.5" fill="#fff"/><rect x="174.0" y="770.6" width="13.8" height="13.6" fill="#d9d9d9"/><circle cx="180.9" cy="777.4" r="3" fill="none" stroke="#fff" stroke-width="1.8"/><rect x="180.0" y="772.4" width="1.8" height="2.2" fill="#fff" transform="rotate(0 180.9 777.4)"/><rect x="180.0" y="772.4" width="1.8" height="2.2" fill="#fff" transform="rotate(45 180.9 777.4)"/><rect x="180.0" y="772.4" width="1.8" height="2.2" fill="#fff" transform="rotate(90 180.9 777.4)"/><rect x="180.0" y="772.4" width="1.8" height="2.2" fill="#fff" transform="rotate(135 180.9 777.4)"/><rect x="180.0" y="772.4" width="1.8" height="2.2" fill="#fff" transform="rotate(180 180.9 777.4)"/><rect x="180.0" y="772.4" width="1.8" height="2.2" fill="#fff" transform="rotate(225 180.9 777.4)"/><rect x="180.0" y="772.4" width="1.8" height="2.2" fill="#fff" transform="rotate(270 180.9 777.4)"/><rect x="180.0" y="772.4" width="1.8" height="2.2" fill="#fff" transform="rotate(315 180.9 777.4)"/><rect x="191.0" y="770.6" width="13.8" height="13.6" fill="#d9d9d9"/><path d="M193.9,773.4L201.9,781.4M201.9,773.4L193.9,781.4" stroke="#fff" stroke-width="1.3"/>
<text x="214.2" y="781.2" font-size="11" fill="#4a86e8" font-weight="normal" text-anchor="start" textLength="38.5" lengthAdjust="spacingAndGlyphs">-0.9041</text>
<text x="264.5" y="781.2" font-size="11" fill="#ff0000" font-weight="normal" text-anchor="start" textLength="34.9" lengthAdjust="spacingAndGlyphs">1.7767</text>
<text x="309.7" y="781.2" font-size="11" fill="#00d000" font-weight="normal" text-anchor="start" textLength="35.7" lengthAdjust="spacingAndGlyphs">2.6808</text>
</svg></body></html>
